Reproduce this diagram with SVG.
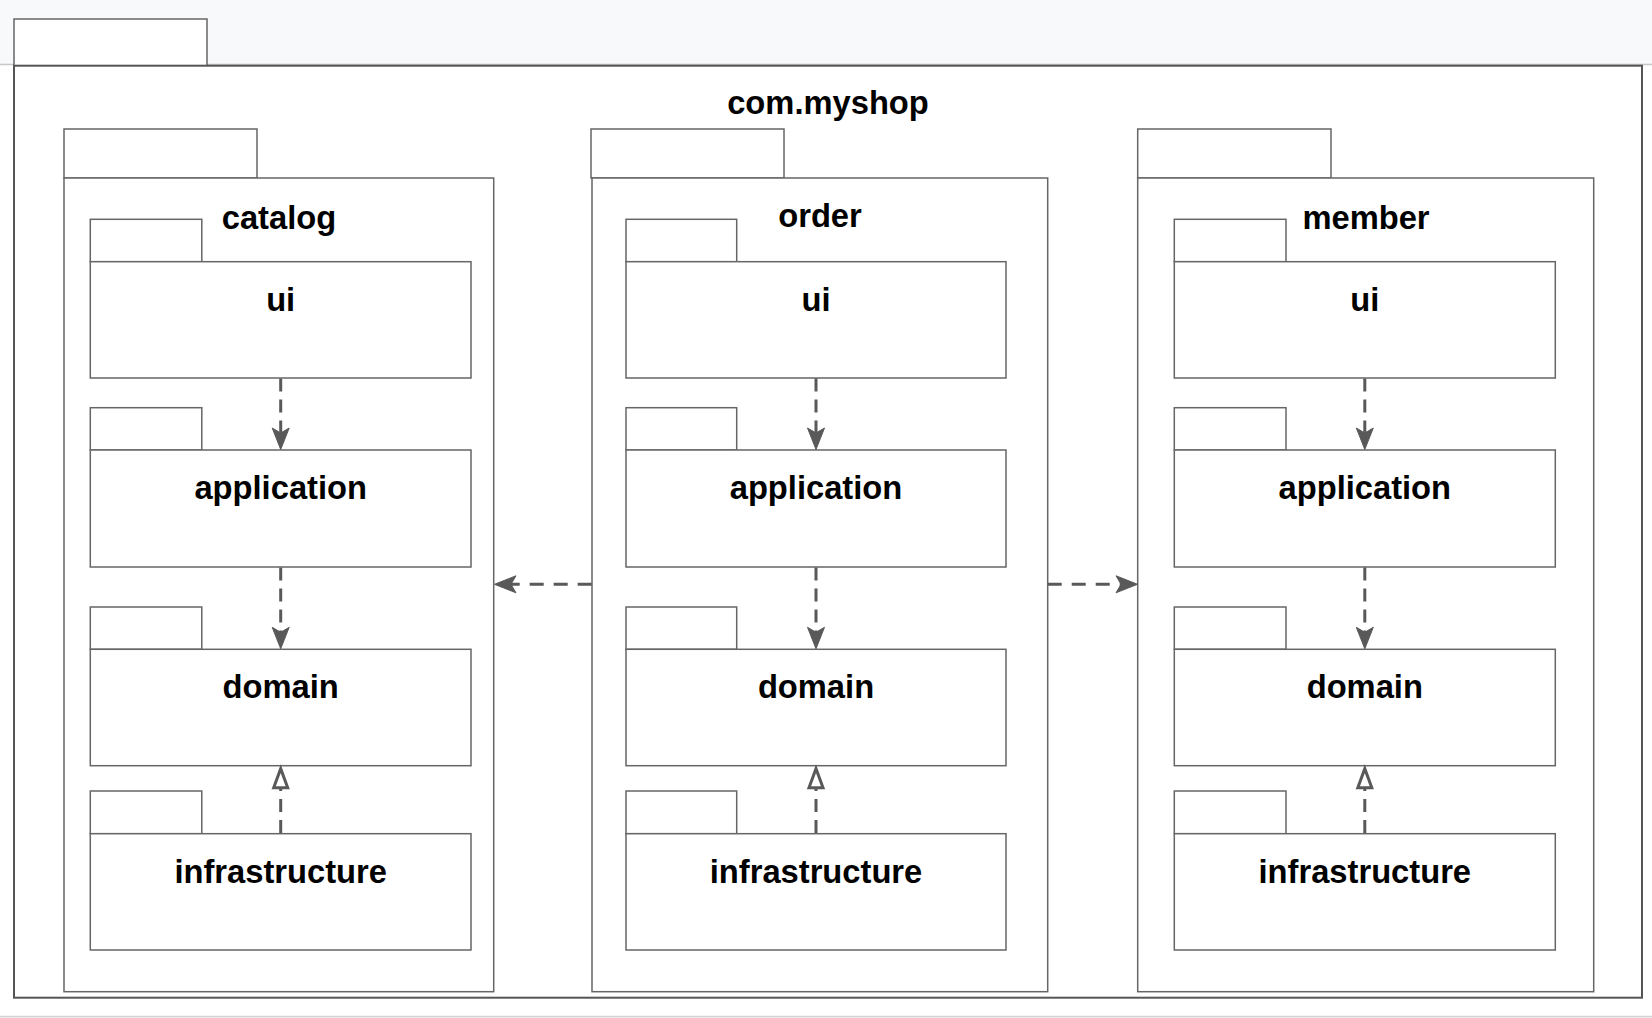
<svg xmlns="http://www.w3.org/2000/svg" width="1652" height="1018" viewBox="0 0 1652 1018">
  <style>
    .pkg { fill: #ffffff; stroke: #666666; stroke-width: 1.5; }
    .outer { fill: #ffffff; stroke: #555555; stroke-width: 2; }
    .lbl { font-family: "Liberation Sans", Arial, Helvetica, sans-serif; font-weight: bold; font-size: 32.7px; fill: #000000; text-anchor: middle; }
    .dep { fill: none; stroke: #595959; stroke-width: 3; }
    .v { stroke-dasharray: 13 8; }
    .h { stroke-dasharray: 14 10; }
  </style>
  <defs>
    <marker id="arrow" markerUnits="userSpaceOnUse" viewBox="-2 -10 26 20" markerWidth="26" markerHeight="20" refX="11" refY="0" orient="auto" overflow="visible">
      <path d="M0,-8.5 L21.5,0 L0,8.5 L5,0 Z" fill="#595959" stroke="#595959" stroke-width="1" stroke-linejoin="miter"/>
    </marker>
    <marker id="tri" markerUnits="userSpaceOnUse" viewBox="-3 -11 26 22" markerWidth="26" markerHeight="22" refX="0" refY="0" orient="auto" overflow="visible">
      <path d="M0,-7 L19,0 L0,7 Z" fill="#ffffff" stroke="#595959" stroke-width="3" stroke-linejoin="miter"/>
    </marker>
  </defs>

  <rect x="0" y="0" width="1652" height="1018" fill="#ffffff"/>
  <rect x="0" y="0" width="1652" height="64" fill="#f8f9fb"/>
  <line x1="0" y1="64.5" x2="1652" y2="64.5" stroke="#c8c8c8" stroke-width="1.5"/>
  <rect x="0" y="1017" width="1652" height="1" fill="#f2f2f2"/>
  <line x1="0" y1="1016.5" x2="1652" y2="1016.5" stroke="#d4d4d4" stroke-width="1.5"/>

  <g id="com.myshop">
    <rect class="pkg" x="14" y="19" width="193" height="47"/>
    <rect class="outer" x="14" y="65.7" width="1628" height="932"/>
    <text class="lbl" x="828" y="114">com.myshop</text>
  </g>

  <g id="catalog">
    <rect class="pkg" x="64" y="129" width="193" height="49"/>
    <rect class="pkg" x="64" y="178" width="429.7" height="813.7"/>
    <text class="lbl" x="279" y="228.5">catalog</text>
  </g>
  <g id="catalog.ui">
    <rect class="pkg" x="90.3" y="219.3" width="111.5" height="42.4"/>
    <rect class="pkg" x="90.3" y="261.7" width="380.7" height="116.3"/>
    <text class="lbl" x="280.7" y="310.5">ui</text>
  </g>
  <g id="catalog.application">
    <rect class="pkg" x="90.3" y="407.7" width="111.5" height="42.3"/>
    <rect class="pkg" x="90.3" y="450" width="380.7" height="117"/>
    <text class="lbl" x="280.7" y="499">application</text>
  </g>
  <g id="catalog.domain">
    <rect class="pkg" x="90.3" y="607" width="111.5" height="42.3"/>
    <rect class="pkg" x="90.3" y="649.3" width="380.7" height="116.4"/>
    <text class="lbl" x="280.7" y="698.2">domain</text>
  </g>
  <g id="catalog.infrastructure">
    <rect class="pkg" x="90.3" y="791" width="111.5" height="42.7"/>
    <rect class="pkg" x="90.3" y="833.7" width="380.7" height="116.3"/>
    <text class="lbl" x="280.7" y="882.5">infrastructure</text>
  </g>

  <g id="order">
    <rect class="pkg" x="591" y="129" width="193" height="49"/>
    <rect class="pkg" x="592" y="178" width="455.7" height="813.7"/>
    <text class="lbl" x="820" y="227">order</text>
  </g>
  <g id="order.ui">
    <rect class="pkg" x="626" y="219.3" width="110.7" height="42.4"/>
    <rect class="pkg" x="626" y="261.7" width="380" height="116.3"/>
    <text class="lbl" x="816" y="310.5">ui</text>
  </g>
  <g id="order.application">
    <rect class="pkg" x="626" y="407.7" width="110.7" height="42.3"/>
    <rect class="pkg" x="626" y="450" width="380" height="117"/>
    <text class="lbl" x="816" y="499">application</text>
  </g>
  <g id="order.domain">
    <rect class="pkg" x="626" y="607" width="110.7" height="42.3"/>
    <rect class="pkg" x="626" y="649.3" width="380" height="116.4"/>
    <text class="lbl" x="816" y="698.2">domain</text>
  </g>
  <g id="order.infrastructure">
    <rect class="pkg" x="626" y="791" width="110.7" height="42.7"/>
    <rect class="pkg" x="626" y="833.7" width="380" height="116.3"/>
    <text class="lbl" x="816" y="882.5">infrastructure</text>
  </g>

  <g id="member">
    <rect class="pkg" x="1137.7" y="129" width="193.3" height="49"/>
    <rect class="pkg" x="1137.7" y="178" width="456" height="813.7"/>
    <text class="lbl" x="1366" y="228.5">member</text>
  </g>
  <g id="member.ui">
    <rect class="pkg" x="1174.3" y="219.3" width="111.7" height="42.4"/>
    <rect class="pkg" x="1174.3" y="261.7" width="381" height="116.3"/>
    <text class="lbl" x="1364.8" y="310.5">ui</text>
  </g>
  <g id="member.application">
    <rect class="pkg" x="1174.3" y="407.7" width="111.7" height="42.3"/>
    <rect class="pkg" x="1174.3" y="450" width="381" height="117"/>
    <text class="lbl" x="1364.8" y="499">application</text>
  </g>
  <g id="member.domain">
    <rect class="pkg" x="1174.3" y="607" width="111.7" height="42.3"/>
    <rect class="pkg" x="1174.3" y="649.3" width="381" height="116.4"/>
    <text class="lbl" x="1364.8" y="698.2">domain</text>
  </g>
  <g id="member.infrastructure">
    <rect class="pkg" x="1174.3" y="791" width="111.7" height="42.7"/>
    <rect class="pkg" x="1174.3" y="833.7" width="381" height="116.3"/>
    <text class="lbl" x="1364.8" y="882.5">infrastructure</text>
  </g>

  <g id="connectors">
    <line class="dep v" x1="280.7" y1="378.5" x2="280.7" y2="439" marker-end="url(#arrow)"/>
    <line class="dep v" x1="280.7" y1="567.5" x2="280.7" y2="638.3" marker-end="url(#arrow)"/>
    <line class="dep v" x1="280.7" y1="833" x2="280.7" y2="787.7" marker-end="url(#tri)"/>

    <line class="dep v" x1="816" y1="378.5" x2="816" y2="439" marker-end="url(#arrow)"/>
    <line class="dep v" x1="816" y1="567.5" x2="816" y2="638.3" marker-end="url(#arrow)"/>
    <line class="dep v" x1="816" y1="833" x2="816" y2="787.7" marker-end="url(#tri)"/>

    <line class="dep v" x1="1364.8" y1="378.5" x2="1364.8" y2="439" marker-end="url(#arrow)"/>
    <line class="dep v" x1="1364.8" y1="567.5" x2="1364.8" y2="638.3" marker-end="url(#arrow)"/>
    <line class="dep v" x1="1364.8" y1="833" x2="1364.8" y2="787.7" marker-end="url(#tri)"/>

    <line class="dep h" x1="591.7" y1="584.3" x2="505" y2="584.3" marker-end="url(#arrow)"/>
    <line class="dep h" x1="1047.7" y1="584.3" x2="1127" y2="584.3" marker-end="url(#arrow)"/>
  </g>
</svg>
